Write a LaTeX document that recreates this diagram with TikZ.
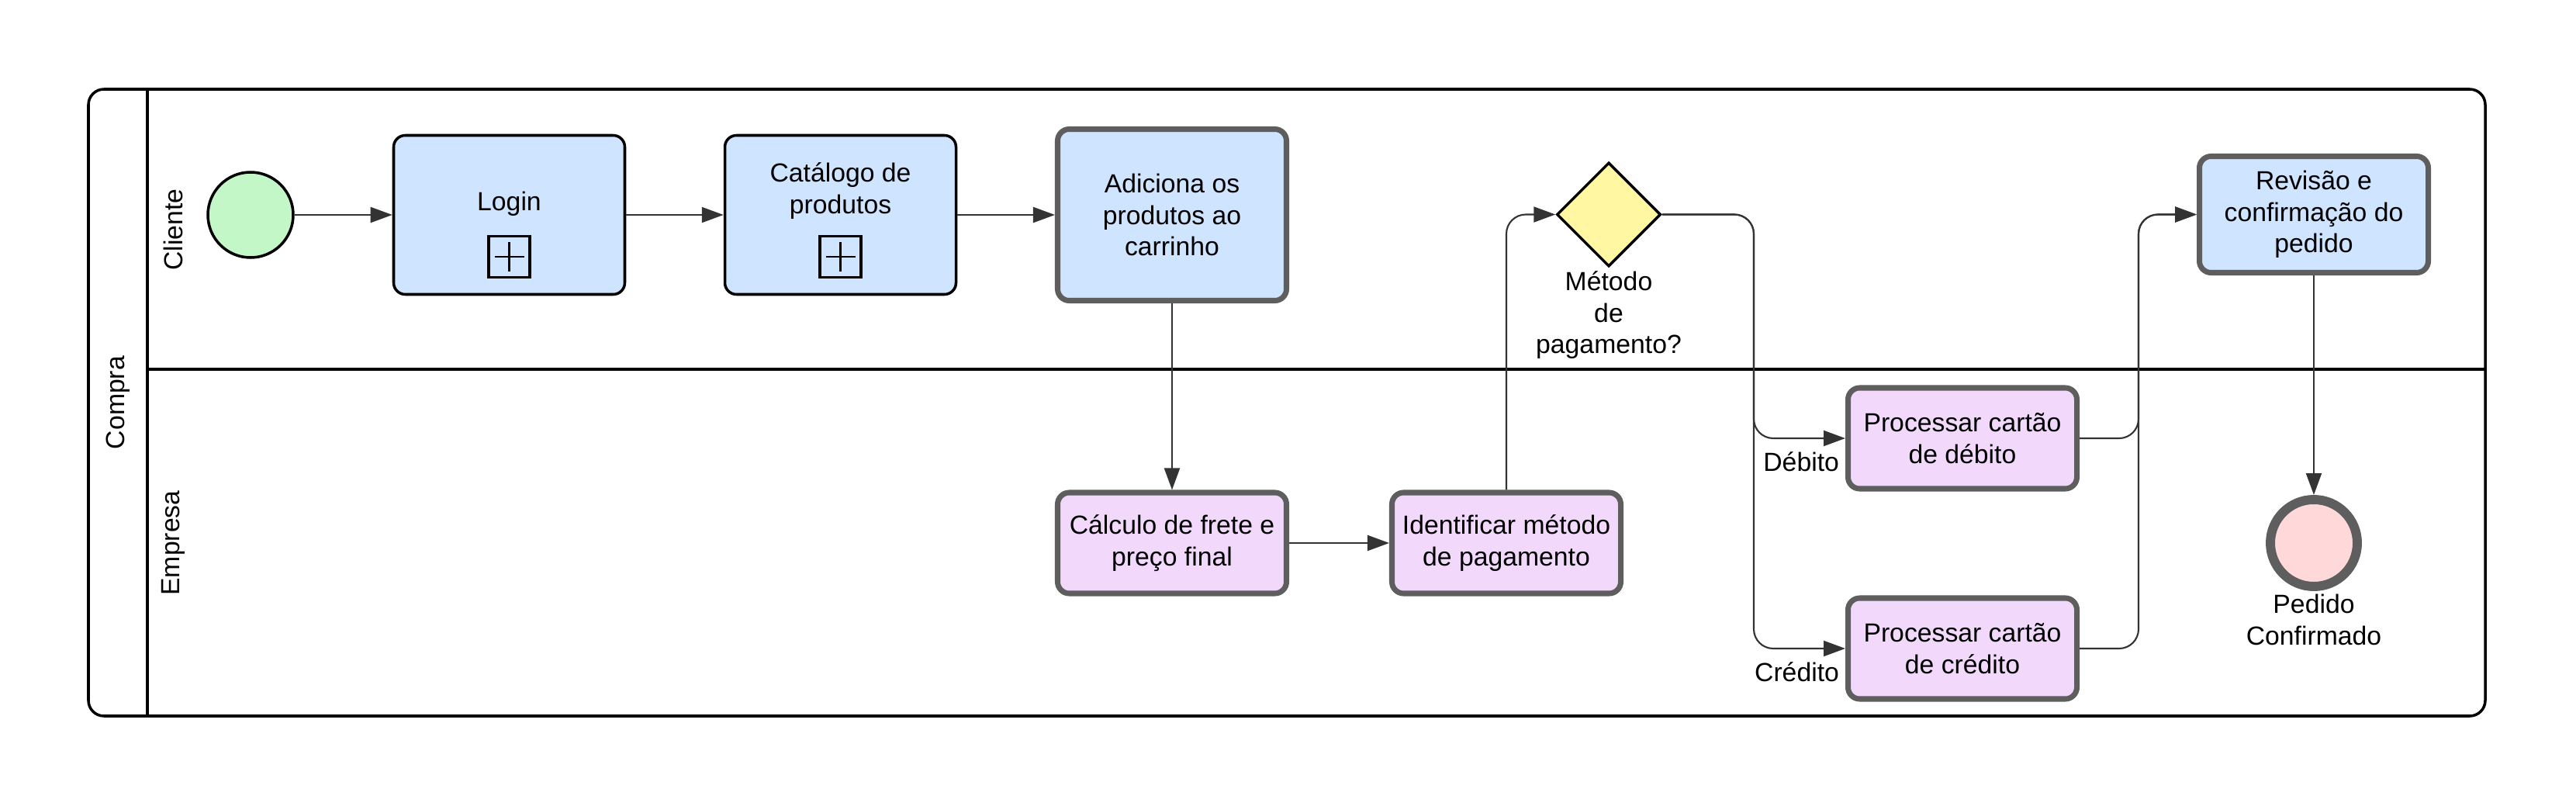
\documentclass[tikz,border=0pt]{standalone}
\usepackage{fontspec}
\setmainfont{Liberation Sans}
\usepackage{tikz}
\usetikzlibrary{arrows.meta,shapes.geometric}
\usepackage{xcolor}

\definecolor{taskblue}{HTML}{CFE4FF}
\definecolor{taskpurple}{HTML}{F2D9FC}
\definecolor{startgreen}{HTML}{C3F7C8}
\definecolor{gateyellow}{HTML}{FFF7A1}
\definecolor{endpink}{HTML}{FFD9D9}
\definecolor{edgegray}{HTML}{5E5E5E}
\definecolor{flowgray}{HTML}{333333}

\begin{document}
\begin{tikzpicture}[
    txt/.style={font=\fontsize{9.6}{11.6}\selectfont, align=center},
    subtask/.style={txt, rectangle, rounded corners=1.5mm, draw=black, line width=1pt, fill=taskblue, minimum width=2.98cm, minimum height=2.05cm},
    task/.style={txt, rectangle, rounded corners=1.5mm, draw=edgegray, line width=2pt, minimum width=2.95cm, minimum height=1.30cm},
    marker/.style={rectangle, draw=black, line width=1pt, minimum size=5.3mm, inner sep=0pt,
      path picture={\draw[line width=0.8pt]
        ([yshift=1.9mm]path picture bounding box.center) -- ([yshift=-1.9mm]path picture bounding box.center)
        ([xshift=-1.9mm]path picture bounding box.center) -- ([xshift=1.9mm]path picture bounding box.center);}},
    flow/.style={draw=flowgray, line width=0.6pt, -{Triangle[length=2.8mm, width=2mm]}},
    branch/.style={txt, at end, anchor=north east, inner sep=2pt, yshift=-1mm}
  ]
      % Variables
      \def \toprow  {-2.77}
      \def \botrow  {-7.00}
      \def \splitx  {22.61}
      \def \joinx   {27.57}

      \useasboundingbox (0,0) rectangle (33.21,-10.39);

      % Pool and lanes
      \draw [line width=1pt, rounded corners=2mm] (1.14,-1.15) rectangle (32.04,-9.23);
      \draw [line width=1pt] (1.90,-1.15) -- (1.90,-9.23);
      \draw [line width=1pt] (1.90,-4.76) -- (32.04,-4.76);
      \node[txt, rotate=90] (compra)  at (1.52,-5.19) {Compra};
      \node[txt, rotate=90] (cliente) at (2.23,-2.96) {Cliente};
      \node[txt, rotate=90] (empresa) at (2.23,-7.00) {Empresa};

      % Cliente lane
      \node[circle, draw=black, line width=1pt, fill=startgreen, minimum size=1.10cm] (inicio) at (3.23,\toprow) {};
      \node[subtask, label={[txt, yshift=1.4mm]center:Login}] (login) at (6.565,\toprow) {};
      \node[marker] (loginmk) at ([yshift=-5.4mm]login.center) {};
      \node[subtask, label={[txt, yshift=3.1mm]center:Catálogo de\\produtos}] (catalogo) at (10.835,\toprow) {};
      \node[marker] (catalogomk) at ([yshift=-5.4mm]catalogo.center) {};
      \node[task, fill=taskblue, minimum height=2.21cm] (carrinho) at (15.11,\toprow) {Adiciona os\\produtos ao\\carrinho};
      \node[diamond, aspect=1, draw=black, line width=1pt, fill=gateyellow, minimum width=1.34cm, minimum height=1.34cm, inner sep=0pt] (metodo) at (20.74,-2.765) {};
      \node[txt, anchor=north, inner sep=1pt] (metodolbl) at (metodo.south) {Método\\de\\pagamento?};
      \node[task, fill=taskblue, minimum height=1.50cm] (revisao) at (29.83,-2.765) {Revisão e\\confirmação do\\pedido};

      % Empresa lane
      \node[task, fill=taskpurple] (frete) at (15.11,\botrow) {Cálculo de frete e\\preço final};
      \node[task, fill=taskpurple] (identificar) at (19.42,\botrow) {Identificar método\\de pagamento};
      \node[task, fill=taskpurple] (debito) at (25.30,-5.65) {Processar cartão\\de débito};
      \node[task, fill=taskpurple] (credito) at (25.30,-8.36) {Processar cartão\\de crédito};
      \node[circle, draw=edgegray, line width=3.4pt, fill=endpink, minimum size=1.12cm] (fim) at (29.83,\botrow) {};
      \node[txt, anchor=north, inner sep=1pt] (fimlbl) at (fim.south) {Pedido\\Confirmado};

      % Flows
      \coordinate (split) at (\splitx,-2.765);
      \coordinate (join) at (\joinx,-2.765);
      \draw[flow] (inicio) -- (login);
      \draw[flow] (login) -- (catalogo);
      \draw[flow] (catalogo) -- (carrinho);
      \draw[flow] (carrinho) -- (frete);
      \draw[flow] (frete) -- (identificar);
      \draw[flow, rounded corners=2.5mm] (identificar.north) |- (metodo.west);
      \draw[flow, rounded corners=2.5mm] (metodo.east) -- (split) |- (debito.west) node[branch] {Débito};
      \draw[flow, rounded corners=2.5mm] (metodo.east) -- (split) |- (credito.west) node[branch] {Crédito};
      \draw[flow, rounded corners=2.5mm] (debito.east) -| (join) -- (revisao.west);
      \draw[flow, rounded corners=2.5mm] (credito.east) -| (join) -- (revisao.west);
      \draw[flow] (revisao) -- (fim);

\end{tikzpicture}
\end{document}
